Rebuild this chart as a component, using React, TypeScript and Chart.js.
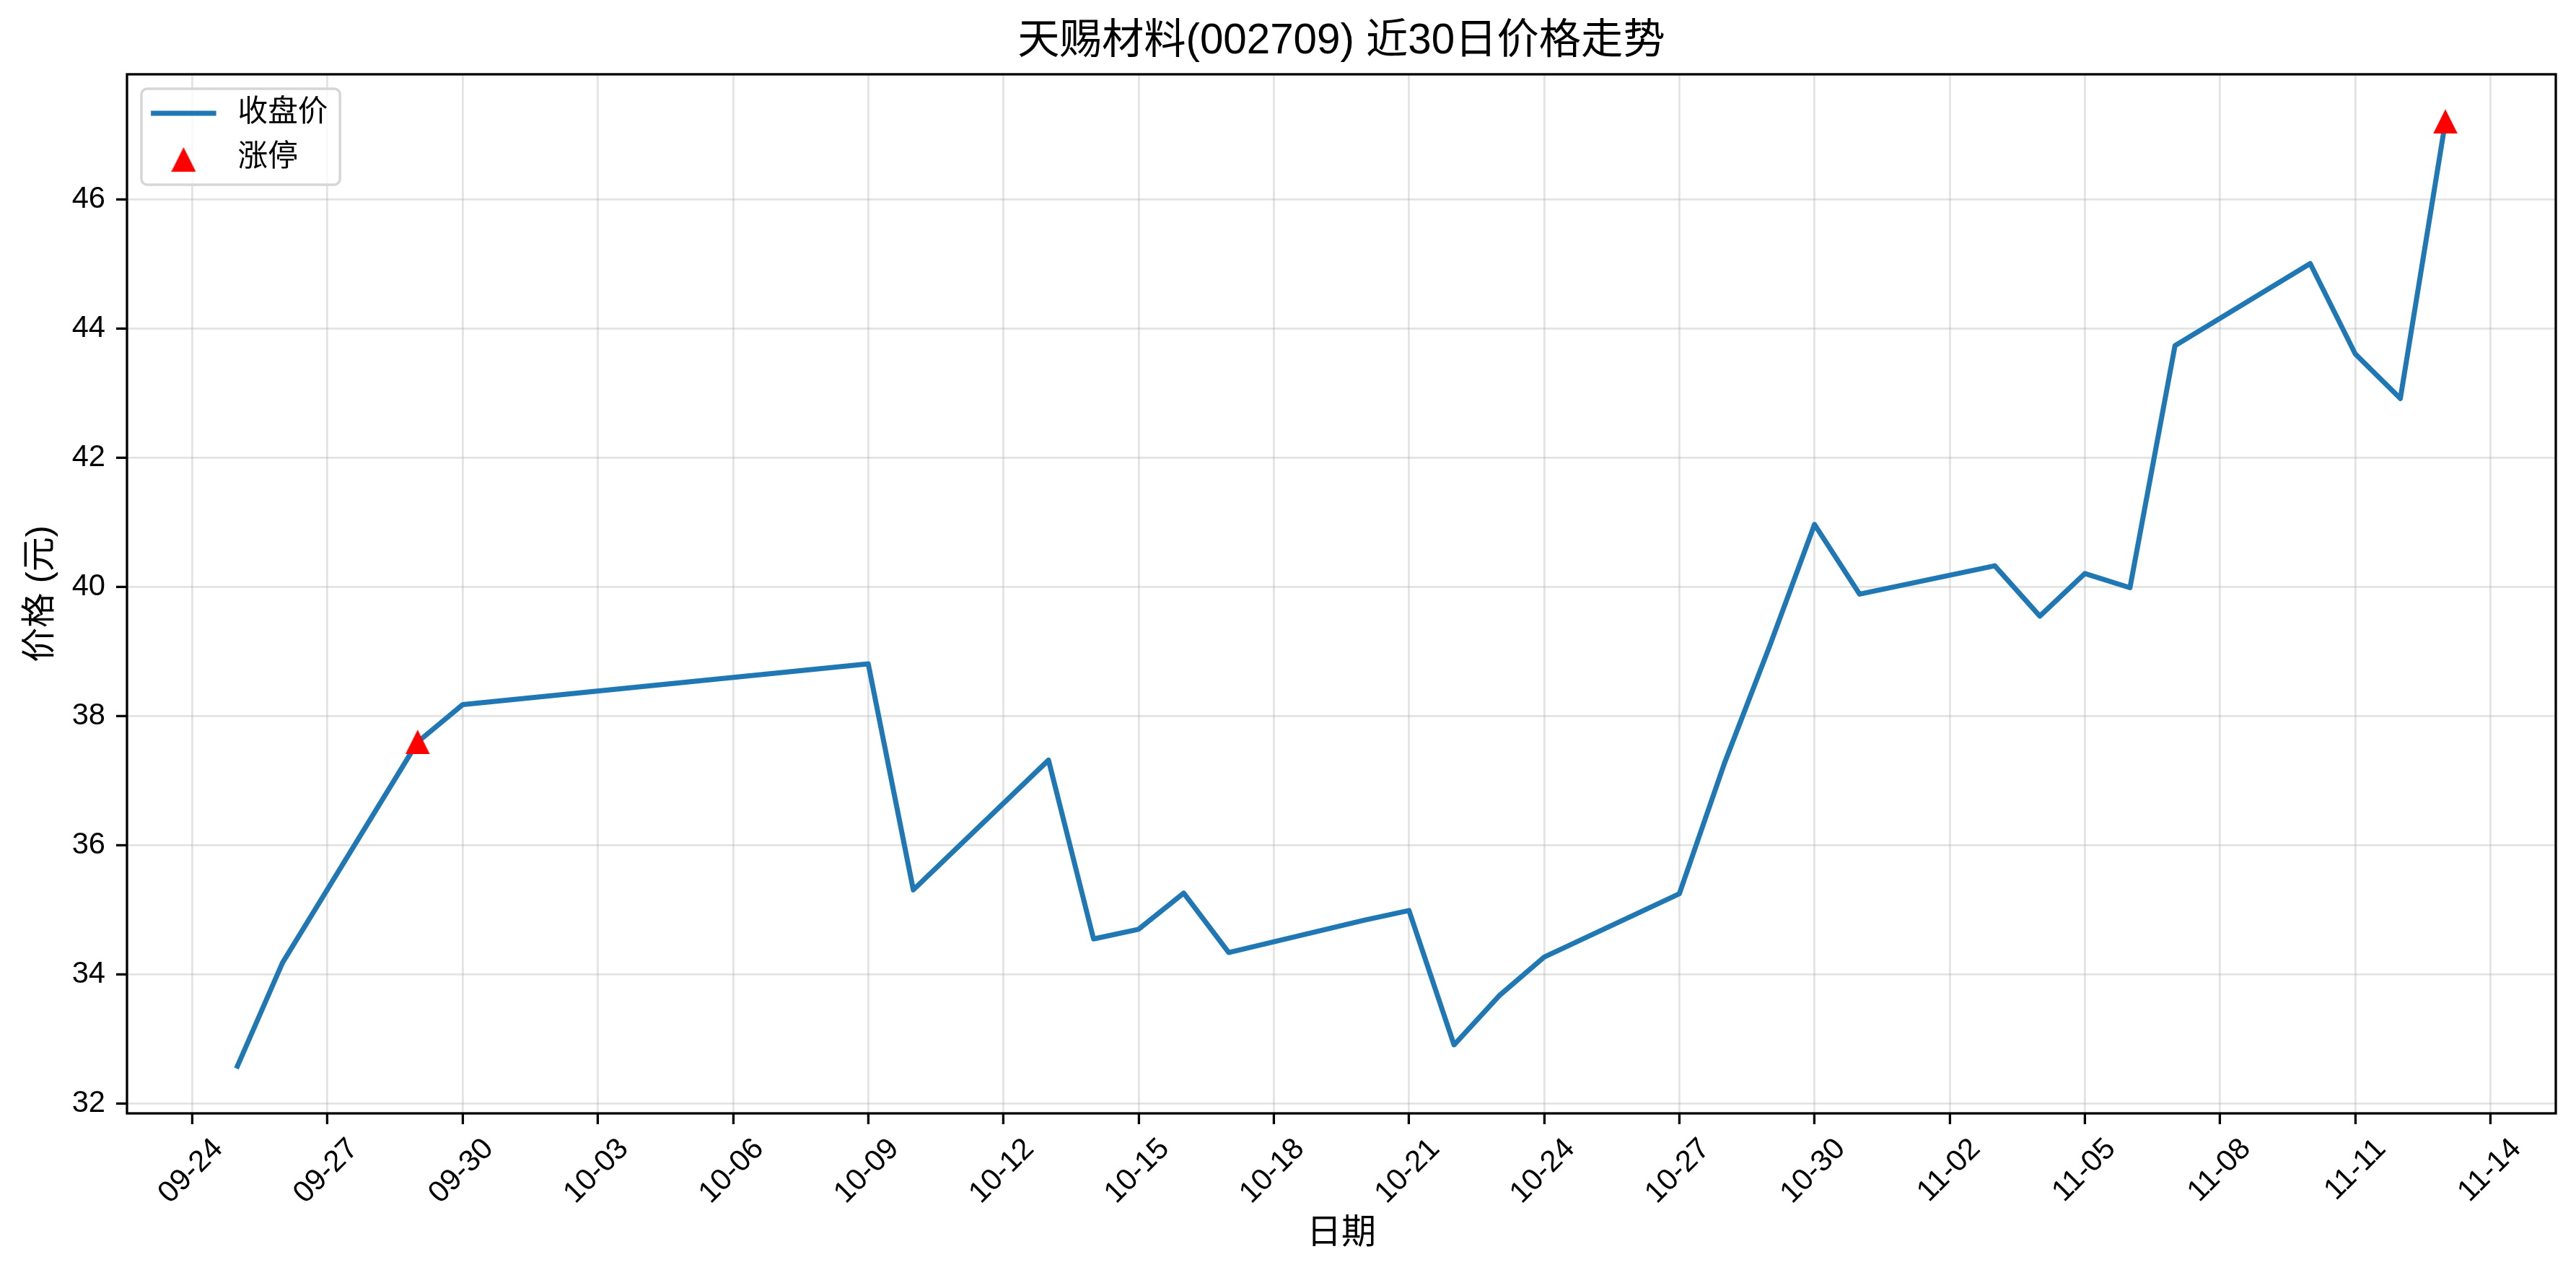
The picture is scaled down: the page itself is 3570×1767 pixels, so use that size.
import React, { useEffect, useRef } from 'react';
import { Chart, registerables } from 'chart.js';

Chart.register(...registerables);

const YEAR = 2025;

const dates = [
  '09-25', '09-26', '09-29', '09-30', '10-09', '10-10', '10-13', '10-14', '10-15', '10-16',
  '10-17', '10-20', '10-21', '10-22', '10-23', '10-24', '10-27', '10-28', '10-29', '10-30',
  '10-31', '11-03', '11-04', '11-05', '11-06', '11-07', '11-10', '11-11', '11-12', '11-13',
];
const closePrices = [
  32.58, 34.18, 37.6, 38.18, 38.81, 35.31, 37.32, 34.55, 34.7, 35.26,
  34.34, 34.84, 34.99, 32.91, 33.67, 34.27, 35.25, 37.27, 39.08, 40.97,
  39.89, 40.33, 39.55, 40.21, 39.99, 43.74, 45.01, 43.61, 42.92, 47.21,
];
const limitUpDates = ['09-29', '11-13'];
const limitUpPrices = [37.6, 47.21];

const xTickLabels = [
  '09-24', '09-27', '09-30', '10-03', '10-06', '10-09', '10-12', '10-15', '10-18',
  '10-21', '10-24', '10-27', '10-30', '11-02', '11-05', '11-08', '11-11', '11-14',
];
const yTickValues = [32, 34, 36, 38, 40, 42, 44, 46];

const seriesNames = ['收盘价', '涨停'];
const titleText = '天赐材料(002709) 近30日价格走势';
const xAxisTitle = '日期';
const yAxisTitle = '价格 (元)';

const FONT = '"Liberation Sans", "Noto Sans CJK SC", sans-serif';
const LINE_COLOR = '#1f77b4';
const MARK_COLOR = '#ff0000';
const GRID_COLOR = 'rgba(176,176,176,0.35)';

const dayNum = (md: string) => {
  const [m, d] = md.split('-').map(Number);
  return Date.UTC(YEAR, m - 1, d) / 86400000;
};

const makeTriangle = (size: number, color: string) => {
  const c = document.createElement('canvas');
  c.width = size;
  c.height = size;
  const g = c.getContext('2d')!;
  g.fillStyle = color;
  g.beginPath();
  g.moveTo(size / 2, 0);
  g.lineTo(size, size);
  g.lineTo(0, size);
  g.closePath();
  g.fill();
  return c;
};

export default function App() {
  const ref = useRef<HTMLCanvasElement>(null);

  useEffect(() => {
    document.body.style.margin = '0';
    const canvas = ref.current;
    if (!canvas) return;

    const xs = dates.map(dayNum);
    const xSpan = xs[xs.length - 1] - xs[0];
    const xMin = xs[0] - 0.05 * xSpan;
    const xMax = xs[xs.length - 1] + 0.05 * xSpan;
    const yLo = Math.min(...closePrices);
    const yHi = Math.max(...closePrices);
    const ySpan = yHi - yLo;
    const yMin = yLo - 0.05 * ySpan;
    const yMax = yHi + 0.05 * ySpan;
    const xTickValues = xTickLabels.map(dayNum);

    const tri = makeTriangle(34, MARK_COLOR);
    const fs = 41.7;
    const labelFs = 48;

    const spinesAndLegend = {
      id: 'spinesAndLegend',
      afterDraw(chart: any) {
        const ctx = chart.ctx as CanvasRenderingContext2D;
        const a = chart.chartArea;
        ctx.save();
        ctx.strokeStyle = '#000';
        ctx.lineWidth = 3.3;
        ctx.strokeRect(a.left, a.top, a.right - a.left, a.bottom - a.top);

        ctx.font = `${fs}px ${FONT}`;
        const textW = Math.max(...seriesNames.map((n) => ctx.measureText(n).width));
        const pad = 0.4 * fs;
        const handleLen = 2 * fs;
        const textPad = 0.8 * fs;
        const x0 = a.left + 20;
        const y0 = a.top + 20;
        const w = pad + handleLen + textPad + textW + pad;
        const h = 133;
        ctx.beginPath();
        (ctx as any).roundRect(x0, y0, w, h, 8);
        ctx.fillStyle = 'rgba(255,255,255,0.8)';
        ctx.fill();
        ctx.strokeStyle = '#d6d6d6';
        ctx.lineWidth = 3.5;
        ctx.stroke();

        const row1 = y0 + 34;
        const row2 = y0 + 96;
        ctx.beginPath();
        ctx.strokeStyle = LINE_COLOR;
        ctx.lineWidth = 7;
        ctx.lineCap = 'square';
        ctx.moveTo(x0 + pad, row1);
        ctx.lineTo(x0 + pad + handleLen, row1);
        ctx.stroke();
        ctx.drawImage(tri, x0 + pad + handleLen / 2 - tri.width / 2, row2 + 2 - tri.height / 2);

        ctx.fillStyle = '#000';
        ctx.textAlign = 'left';
        ctx.textBaseline = 'middle';
        ctx.fillText(seriesNames[0], x0 + pad + handleLen + textPad, row1);
        ctx.fillText(seriesNames[1], x0 + pad + handleLen + textPad, row2);
        ctx.restore();
      },
    };

    const tickFont = { family: FONT, size: fs };

    const chart = new Chart(canvas, {
      type: 'scatter',
      data: {
        datasets: [
          {
            label: seriesNames[1],
            data: limitUpDates.map((d, i) => ({ x: dayNum(d), y: limitUpPrices[i] })),
            pointStyle: tri as any,
            pointRadius: 17,
            backgroundColor: MARK_COLOR,
            borderColor: MARK_COLOR,
            showLine: false,
          },
          {
            label: seriesNames[0],
            data: dates.map((d, i) => ({ x: dayNum(d), y: closePrices[i] })),
            showLine: true,
            borderColor: LINE_COLOR,
            backgroundColor: LINE_COLOR,
            borderWidth: 7,
            borderCapStyle: 'square',
            borderJoinStyle: 'round',
            pointRadius: 0,
            tension: 0,
          } as any,
        ],
      },
      options: {
        animation: false,
        responsive: false,
        devicePixelRatio: 1,
        events: [],
        layout: { padding: { left: 0, right: 28, top: 0, bottom: 0 } },
        plugins: {
          legend: { display: false },
          tooltip: { enabled: false },
          title: {
            display: true,
            text: titleText,
            color: '#000',
            fullSize: false,
            font: { family: FONT, size: 58.3, weight: 'normal' },
            padding: { top: 23, bottom: 10 },
          },
        },
        scales: {
          x: {
            type: 'linear',
            min: xMin,
            max: xMax,
            afterBuildTicks: (s: any) => {
              s.ticks = xTickValues.map((v) => ({ value: v }));
            },
            afterFit: (s: any) => {
              s.height = 224;
            },
            ticks: {
              autoSkip: false,
              minRotation: 45,
              maxRotation: 45,
              padding: 10,
              labelOffset: 36,
              color: '#000',
              font: tickFont,
              callback: (_v: any, i: number) => xTickLabels[i],
            },
            grid: {
              color: GRID_COLOR,
              lineWidth: 2.8,
              tickColor: '#000',
              tickLength: 15,
              tickWidth: 3.3,
            },
            border: { display: false },
            title: {
              display: true,
              text: xAxisTitle,
              color: '#000',
              font: { family: FONT, size: labelFs },
              padding: { top: 0, bottom: 28 },
            },
          },
          y: {
            type: 'linear',
            min: yMin,
            max: yMax,
            afterBuildTicks: (s: any) => {
              s.ticks = yTickValues.map((v) => ({ value: v }));
            },
            afterFit: (s: any) => {
              s.width = 176;
            },
            ticks: {
              padding: 15,
              color: '#000',
              font: tickFont,
              callback: (v: any) => String(v),
            },
            grid: {
              color: GRID_COLOR,
              lineWidth: 2.8,
              tickColor: '#000',
              tickLength: 15,
              tickWidth: 3.3,
            },
            border: { display: false },
            title: {
              display: true,
              text: yAxisTitle,
              color: '#000',
              font: { family: FONT, size: labelFs },
              padding: { top: 28, bottom: 0 },
            },
          },
        },
      },
      plugins: [spinesAndLegend],
    } as any);

    return () => chart.destroy();
  }, []);

  return (
    <canvas
      ref={ref}
      width={3570}
      height={1767}
      style={{ display: 'block', width: 3570, height: 1767 }}
    />
  );
}
